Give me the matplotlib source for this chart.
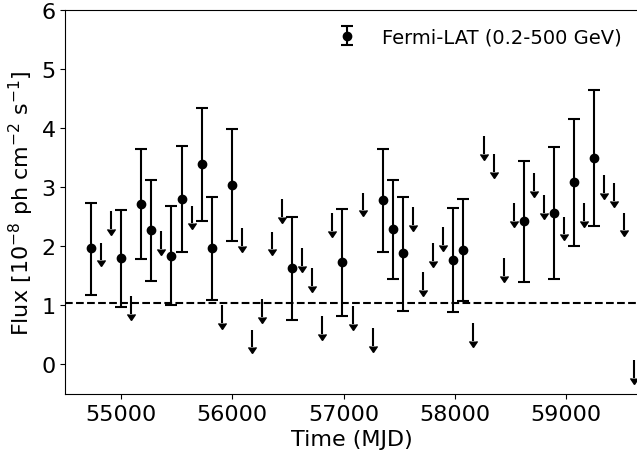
import matplotlib
matplotlib.use("Agg")
import matplotlib.pyplot as plt
from matplotlib.markers import CARETDOWNBASE

# Detections: time (MJD), flux, upper bound, lower bound (1e-8 ph cm^-2 s^-1)
t_det = [54730, 55000, 55183, 55273, 55453, 55547, 55727, 55817, 56000, 56540,
         56990, 57354, 57444, 57534, 57988, 58078, 58619, 58889, 59072, 59255]
f_det = [1.97, 1.80, 2.71, 2.27, 1.84, 2.80, 3.39, 1.97, 3.04, 1.63,
         1.73, 2.78, 2.29, 1.88, 1.77, 1.94, 2.43, 2.57, 3.08, 3.50]
f_hi = [2.74, 2.62, 3.64, 3.13, 2.69, 3.70, 4.34, 2.84, 3.99, 2.50,
        2.63, 3.64, 3.13, 2.84, 2.64, 2.80, 3.44, 3.68, 4.16, 4.64]
f_lo = [1.18, 0.97, 1.78, 1.41, 1.01, 1.91, 2.43, 1.09, 2.09, 0.76,
        0.82, 1.90, 1.44, 0.91, 0.89, 1.08, 1.40, 1.44, 2.01, 2.35]

# Upper limits
t_ul = [54820, 54910, 55090, 55363, 55637, 55907, 56087, 56177, 56267, 56357,
        56447, 56630, 56720, 56810, 56900, 57083, 57171, 57264, 57624, 57714,
        57804, 57894, 58168, 58258, 58348, 58438, 58528, 58709, 58799, 58979,
        59162, 59345, 59432, 59523, 59613]
f_ul = [2.06, 2.60, 1.16, 2.26, 2.69, 1.01, 2.31, 0.59, 1.11, 2.25,
        2.80, 1.97, 1.63, 0.82, 2.56, 0.99, 2.91, 0.61, 2.66, 1.56,
        2.05, 2.32, 0.70, 3.87, 3.56, 1.80, 2.73, 3.24, 2.87, 2.50,
        2.73, 3.21, 3.07, 2.57, 0.07]
ul_len = 0.30

mean_flux = 1.04
x_ticks = [55000, 56000, 57000, 58000, 59000]
y_ticks = [0, 1, 2, 3, 4, 5, 6]

fig = plt.figure(figsize=(6.37, 4.56), dpi=100)
ax = fig.add_axes([0.1025, 0.1338, 0.9006, 0.8421])

yerr = [[f - l for f, l in zip(f_det, f_lo)], [h - f for f, h in zip(f_det, f_hi)]]
ax.errorbar(t_det, f_det, yerr=yerr, fmt='o', color='black', markersize=6,
            elinewidth=1.5, capsize=4, capthick=1.5, label='Fermi-LAT (0.2-500 GeV)')

ul_bottom = [u - ul_len for u in f_ul]
ax.vlines(t_ul, ul_bottom, f_ul, colors='black', linewidth=1.5)
ax.plot(t_ul, ul_bottom, linestyle='none', marker=CARETDOWNBASE, color='black',
        markersize=6)

ax.axhline(mean_flux, color='black', linestyle='--', linewidth=1.5)

ax.set_xlim(54500, 59655)
ax.set_ylim(-0.5, 6)
ax.set_xticks(x_ticks)
ax.set_yticks(y_ticks)
ax.tick_params(labelsize=16)
ax.set_xlabel('Time (MJD)', fontsize=16)
ax.set_ylabel(r'Flux [10$^{-8}$ ph cm$^{-2}$ s$^{-1}$]', fontsize=16)
ax.legend(loc='upper right', frameon=False, fontsize=14)

fig.savefig('out.png', dpi=100)
